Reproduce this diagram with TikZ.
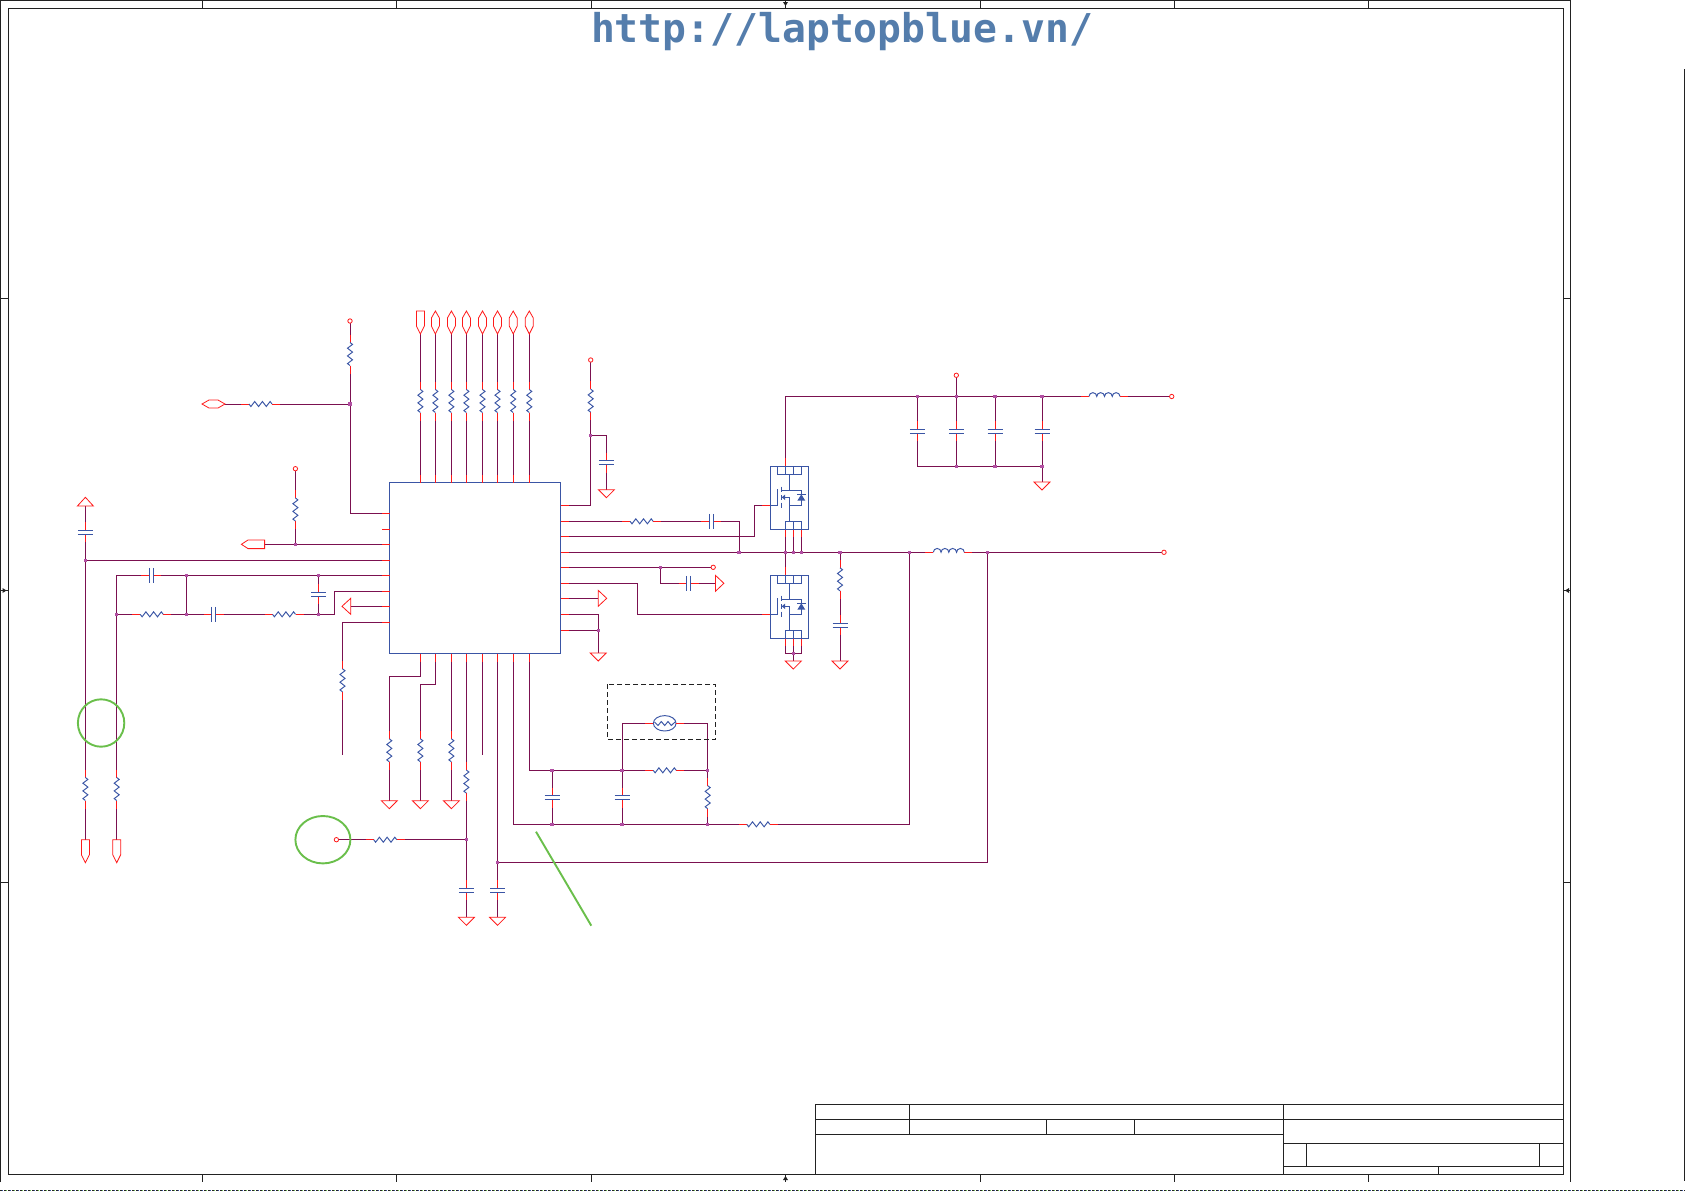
\documentclass[tikz,border=0pt]{standalone}
\usepackage{fontspec}
\usetikzlibrary{shapes.geometric}
\newfontfamily\hdrfont{DejaVu Sans Mono}
\definecolor{wirec}{HTML}{7B1150}
\definecolor{pinc}{HTML}{FF1A1A}
\definecolor{compc}{HTML}{3A55A5}
\definecolor{dotc}{HTML}{B24FA3}
\definecolor{framec}{HTML}{222222}
\definecolor{greenc}{HTML}{6ABF4B}
\definecolor{hdrc}{HTML}{547DAC}
\pgfdeclarelayer{wires}
\pgfsetlayers{wires,main}
\tikzset{
 x=1pt,y=-1pt,
 wire/.style={draw=wirec,line width=0.95pt},
 stub/.style={draw=pinc,line width=0.95pt},
 comp/.style={draw=compc,line width=0.95pt},
 flag/.style={draw=pinc,line width=0.8pt,line join=miter},
 frameline/.style={draw=framec,line width=1pt},
 callout/.style={draw=greenc,line width=1.9pt},
}
% vertical resistor
\newcommand\Rv[3]{\begin{scope}[shift={(#2,#3)}]
 \coordinate (#1-a) at (0,-19.5); \coordinate (#1-b) at (0,19.5);
 \draw[stub] (0,-19.5)--(0,-11.5); \draw[stub] (0,11.5)--(0,19.5);
 \draw[comp] (0,-11.5)--(2.5,-9.6)--(-2.5,-5.8)--(2.5,-1.9)--(-2.5,1.9)--(2.5,5.8)--(-2.5,9.6)--(0,11.5);
\end{scope}}
% horizontal resistor
\newcommand\Rh[3]{\begin{scope}[shift={(#2,#3)}]
 \coordinate (#1-a) at (-19.5,0); \coordinate (#1-b) at (19.5,0);
 \draw[stub] (-19.5,0)--(-11.5,0); \draw[stub] (11.5,0)--(19.5,0);
 \draw[comp] (-11.5,0)--(-9.6,2.5)--(-5.8,-2.5)--(-1.9,2.5)--(1.9,-2.5)--(5.8,2.5)--(9.6,-2.5)--(11.5,0);
\end{scope}}
% capacitors
\newcommand\Cv[3]{\begin{scope}[shift={(#2,#3)}]
 \coordinate (#1-a) at (0,-10); \coordinate (#1-b) at (0,10);
 \draw[stub] (0,-10)--(0,-2); \draw[stub] (0,2)--(0,10);
 \draw[comp] (-7.5,-2)--(7.5,-2) (-7.5,2)--(7.5,2);
\end{scope}}
\newcommand\Ch[3]{\begin{scope}[shift={(#2,#3)}]
 \coordinate (#1-a) at (-10,0); \coordinate (#1-b) at (10,0);
 \draw[stub] (-10,0)--(-2,0); \draw[stub] (2,0)--(10,0);
 \draw[comp] (-2,-7.5)--(-2,7.5) (2,-7.5)--(2,7.5);
\end{scope}}
% inductor
\newcommand\Lh[3]{\begin{scope}[shift={(#2,#3)}]
 \coordinate (#1-a) at (-23.5,0); \coordinate (#1-b) at (23.5,0);
 \draw[stub] (-23.5,0)--(-15.5,0); \draw[stub] (15.5,0)--(23.5,0);
 \draw[comp] (-15.5,0) arc (180:360:3.875) arc (180:360:3.875) arc (180:360:3.875) arc (180:360:3.875);
\end{scope}}
\newcommand\Jn[3]{\coordinate (#1) at (#2,#3); \fill[dotc] (#2-1.6,#3-1.6) rectangle (#2+1.6,#3+1.6);}
\newcommand\Ep[3]{\coordinate (#1) at (#2,#3); \draw[flag,fill=white] (#2,#3) circle (2.2);}
\newcommand\Gnd[3]{\coordinate (#1) at (#2,#3); \draw[flag] (#2-8,#3)--(#2+8,#3)--(#2,#3+8)--cycle;}
\newcommand\TriR[3]{\coordinate (#1) at (#2,#3); \draw[flag] (#2,#3-8)--(#2+8.5,#3)--(#2,#3+8)--cycle;}
\newcommand\LozV[3]{\coordinate (#1) at (#2,#3+23); \draw[flag] (#2,#3)--(#2+4,#3+7)--(#2+4,#3+15)--(#2,#3+23)--(#2-4,#3+15)--(#2-4,#3+7)--cycle;}
\newcommand\PentD[3]{\coordinate (#1) at (#2,#3); \coordinate (#1-t) at (#2,#3+23); \draw[flag] (#2-4,#3)--(#2+4,#3)--(#2+4,#3+15)--(#2,#3+23)--(#2-4,#3+15)--cycle;}
% MOSFET
\newcommand\Mos[2]{\begin{scope}[shift={(0,#2)}]
 \coordinate (#1-d) at (785.3,458.3);
 \coordinate (#1-s1) at (785.3,537.3); \coordinate (#1-s2) at (793.3,537.3); \coordinate (#1-s3) at (801.7,537.3);
 \coordinate (#1-g) at (762.3,505.3);
 \draw[stub] (785.3,458.3)--(785.3,466.3) (785.3,529.3)--(785.3,537.3) (793.3,529.3)--(793.3,537.3) (801.7,529.3)--(801.7,537.3) (762.3,505.3)--(770.3,505.3);
 \draw[comp] (770.3,466.3) rectangle (808.3,529.3);
 \draw[comp] (777.3,466.3) rectangle (801.7,474.3) (785.3,466.3)--(785.3,474.3) (793.3,466.3)--(793.3,474.3);
 \draw[comp] (785.3,521.3) rectangle (801.7,529.3) (793.3,521.3)--(793.3,529.3);
 \draw[comp] (789.3,474.3)--(789.3,490.3) (781.3,490.3)--(801.3,490.3)--(801.3,505.3)--(789.3,505.3);
 \draw[comp] (781.3,497.3)--(789.3,497.3)--(789.3,521.3);
 \draw[comp] (770.3,505.3)--(777.3,505.3)--(777.3,489.3);
 \draw[comp] (781.3,486.7)--(781.3,492) (781.3,495)--(781.3,500) (781.3,502.7)--(781.3,508);
 \fill[compc] (781.8,497.3)--(785,494.6)--(785,500)--cycle;
 \fill[compc] (801.3,494.3)--(805.3,500.7)--(797.3,500.7)--cycle;
 \draw[comp] (797,494.3)--(805.6,494.3);
\end{scope}}
\begin{document}
\begin{tikzpicture}
\useasboundingbox (0,0) rectangle (1685,1191);
\begin{pgfonlayer}{wires}
\fill[white] (0,0) rectangle (1685,1191);
\end{pgfonlayer}
% header
\node[text=hdrc,font=\hdrfont\bfseries\fontsize{39.7}{44}\selectfont,anchor=base] (hdr) at (842,42) {http://laptopblue.vn/};
% frame
\draw[frameline] (0.5,1182)--(0.5,0.5)--(1570.3,0.5)--(1570.3,1182);
\draw[frameline] (1684.3,69)--(1684.3,1181);
\draw[frameline] (8,8) rectangle (1563.5,1174.3);
\draw[framec,line width=1pt,dash pattern=on 1.5pt off 2.5pt] (0,1190.3)--(1685,1190.3);
\draw[compc,line width=1pt,dash pattern=on 1.5pt off 6.5pt] (1.5,1190.3)--(1685,1190.3);
\draw[greenc,line width=1pt,dash pattern=on 1.5pt off 6.5pt] (5.5,1190.3)--(1685,1190.3);
\foreach \t in {202,396.5,591,980,1174.5,1368} {\draw[frameline] (\t,0.5)--(\t,8) (\t,1174.3)--(\t,1182);}
\foreach \t in {298.7,882} {\draw[frameline] (0.5,\t)--(8,\t) (1563.5,\t)--(1570.3,\t);}
\draw[frameline] (785.5,0.5)--(785.5,8) (785.5,1174.3)--(785.5,1182) (0.5,590.5)--(8,590.5) (1563.5,590.5)--(1570.3,590.5);
\fill[framec] (785.5,6)--(783,2)--(788,2)--cycle (785.5,1176)--(783,1180)--(788,1180)--cycle;
\fill[framec] (6.5,590.5)--(2.5,588)--(2.5,593)--cycle (1565,590.5)--(1569,588)--(1569,593)--cycle;
% title block
\draw[frameline] (815.2,1174.3)--(815.2,1104.3)--(1563.5,1104.3);
\draw[frameline] (815.2,1119.3)--(1563.5,1119.3) (815.2,1134.3)--(1283.6,1134.3);
\draw[frameline] (909.5,1104.3)--(909.5,1134.3) (1046.6,1119.3)--(1046.6,1134.3) (1134.6,1119.3)--(1134.6,1134.3) (1283.6,1104.3)--(1283.6,1174.3);
\draw[frameline] (1283.6,1143.3)--(1563.5,1143.3) (1283.6,1166.3)--(1563.5,1166.3) (1306.2,1143.3)--(1306.2,1166.3) (1539.3,1143.3)--(1539.3,1166.3) (1438.3,1166.3)--(1438.3,1174.3);
% IC
\node[comp,draw,rectangle,minimum width=171pt,minimum height=171pt,inner sep=0pt,outer sep=0pt] (ic) at (475,568) {};
\foreach \n/\x in {1/420.4,2/435.4,3/451.4,4/466.4,5/482.5,6/497.5,7/513.2,8/529.3} {
 \draw[stub] (\x,482.5)--(\x,474.5); \coordinate (t\n) at (\x,474.5);
 \draw[stub] (\x,653.5)--(\x,661.5); \coordinate (b\n) at (\x,661.5);
}
\foreach \n/\y in {1/513.3,2/529.3,3/544.3,4/560.3,5/575.3,6/591.3,7/606.3,8/622.3} {
 \draw[stub] (389.5,\y)--(381.5,\y); \coordinate (l\n) at (381.5,\y);
}
\foreach \n/\y in {1/505.3,2/521.3,3/536.7,4/552.3,5/567.3,6/583.3,7/598.3,8/614.3,9/630.3} {
 \draw[stub] (560.5,\y)--(568.5,\y); \coordinate (r\n) at (568.5,\y);
}
% top row
\PentD{fA}{420.4}{311}
\foreach \n/\x in {2/435.4,3/451.4,4/466.4,5/482.5,6/497.5,7/513.2,8/529.3} {\LozV{fT\n}{\x}{311}}
\foreach \n/\x in {1/420.4,2/435.4,3/451.4,4/466.4,5/482.5,6/497.5,7/513.2,8/529.3} {\Rv{Rt\n}{\x}{401}}
% left part
\Ep{E1}{350}{321}
\Rv{R1}{350}{354}
\Jn{J1}{350}{404}
\draw[flag] (202,404)--(209,400)--(218,400)--(225,404)--(218,408)--(209,408)--cycle;
\coordinate (fL1) at (225,404);
\Rh{R2}{260.5}{404}
\Ep{E2}{295.4}{468.7}
\Rv{R3}{295.4}{509.5}
\Jn{J3}{295.4}{544.3}
\draw[flag] (241.4,544.3)--(248,540)--(264.6,540)--(264.6,548.6)--(248,548.6)--cycle;
\coordinate (fL2) at (264.6,544.3);
\draw[flag] (85.4,497.3)--(93.4,506)--(77.4,506)--cycle;
\coordinate (fU) at (85.4,506);
\Cv{C1}{85.4}{532.3}
\Jn{J4}{85.4}{560.3}
\Rv{R4}{85.4}{789}
\PentD{fD1}{85.4}{839.7}
\Rv{R5}{116.7}{789}
\PentD{fD2}{116.7}{839.7}
\Ch{C2}{151}{575.3}
\Jn{J5}{116.7}{614.3}
\Rh{R6}{151.7}{614.3}
\Jn{J6}{186.4}{614.3}
\Jn{J7}{186.4}{575.3}
\Ch{C3}{213.6}{614.3}
\Rh{R7}{284}{614.3}
\Jn{J8}{318.6}{614.3}
\Jn{J9}{318.6}{575.3}
\Cv{C4}{318.6}{594.3}
\coordinate (k1) at (334.6,614.3);
\draw[flag] (342,606.3)--(350.7,598.3)--(350.7,614.3)--cycle;
\coordinate (fL3) at (350.7,606.3);
\Rv{R8}{342.5}{680.3}
\coordinate (end1) at (342.5,754.7);
% bottom row
\Rv{Rb1}{389.3}{750.3}
\Rv{Rb2}{420.4}{750.3}
\Rv{Rb3}{451.4}{750.3}
\Gnd{G1}{389.3}{800.7}
\Gnd{G2}{420.4}{800.7}
\Gnd{G3}{451.4}{800.7}
\coordinate (k2) at (420.4,676.3);
\coordinate (k3) at (389.3,676.3);
\coordinate (k4) at (435.4,684.3);
\coordinate (k5) at (420.4,684.3);
\Rv{Rb4}{466.4}{781.6}
\Jn{J10}{466.4}{839.7}
\Cv{C5}{466.4}{890.3}
\Gnd{G4}{466.4}{917.3}
\Ep{E3}{336.4}{839.7}
\Rh{R9}{385.2}{839.7}
\coordinate (end2) at (482.5,754.7);
\Jn{J11}{497.5}{862.7}
\Cv{C6}{497.5}{890.3}
\Gnd{G5}{497.5}{917.3}
\Jn{J13}{552}{824.3}
\Jn{J14}{622}{824.3}
\Jn{J15}{707.7}{824.3}
\Rh{R10}{758.3}{824.3}
\Jn{J17}{552}{770.3}
\Jn{J18}{622}{770.3}
\Jn{J19}{707.7}{770.3}
\Rh{R11}{664.7}{770.3}
\Rv{R12}{707.7}{797.2}
\Cv{C7}{552}{797.7}
\Cv{C8}{622}{797.7}
\coordinate (k6) at (513.2,824.3);
\coordinate (k7) at (529.3,770.3);
% crystal
\node[comp,draw,ellipse,minimum width=22.7pt,minimum height=15.4pt,inner sep=0pt] (Y1) at (664.7,723.3) {};
\draw[comp] (654.5,722)--(658,725.5)--(661.3,721.5)--(664.7,725.5)--(668,721.5)--(671.3,725.5)--(675,722);
\draw[stub] (645.3,723.3)--(653.4,723.3) (676,723.3)--(684,723.3);
\coordinate (Ya) at (645.3,723.3);
\coordinate (Yb) at (684,723.3);
\draw[framec,line width=0.95pt,dash pattern=on 5pt off 3pt] (607.3,684.3) rectangle (715.7,739.3);
% right part
\Ep{E4}{590.7}{360}
\Rv{R13}{590.7}{400.7}
\Jn{J20}{590.7}{435.3}
\Cv{C9}{606.4}{462.7}
\Gnd{G6}{606.4}{489.7}
\Rh{R14}{641.6}{521.3}
\Ch{C10}{711.4}{521.3}
\Jn{J21}{739}{552.3}
\coordinate (k8) at (754.3,536.7);
\coordinate (k9) at (754.3,505.3);
\Mos{M1}{0}
\Mos{M2}{109}
\Jn{J40}{785.3}{552.3}
\Jn{J41}{793.3}{552.3}
\Jn{J42}{801.7}{552.3}
\Jn{J36}{840}{552.3}
\Jn{J16}{909.7}{552.3}
\Lh{L1}{948.8}{552.3}
\Jn{J12}{987.3}{552.3}
\Ep{E5}{1164}{552.3}
\Jn{J22}{660.7}{567.3}
\Ep{E6}{713.2}{567.3}
\Ch{C11}{688.6}{583.3}
\TriR{fR1}{715.4}{583.3}
\TriR{fR2}{598.2}{598.3}
\coordinate (k10) at (637.5,614.3);
\Jn{J23}{598.2}{630.3}
\Gnd{G7}{598.2}{653}
\Jn{J35}{793.3}{653.3}
\Gnd{G8}{793.3}{661}
\Rv{R15}{840}{579.3}
\Cv{C16}{840}{625.3}
\Gnd{G9}{840}{661}
\Jn{J24}{917.3}{396.5}
\Jn{J25}{956.3}{396.5}
\Jn{J26}{995}{396.5}
\Jn{J27}{1042}{396.5}
\Ep{E8}{956.3}{375.3}
\Cv{C12}{917.3}{431}
\Cv{C13}{956.3}{431}
\Cv{C14}{995}{431}
\Cv{C15}{1042}{431}
\Jn{J29}{956.3}{466.3}
\Jn{J30}{995}{466.3}
\Jn{J31}{1042}{466.3}
\Gnd{G10}{1042}{482}
\Lh{L2}{1104.5}{396.5}
\Ep{E7}{1171.7}{396.5}
% callouts
\draw[callout] (101.1,723) ellipse (23.2 and 23.7);
\draw[callout] (322.9,839.7) ellipse (27.5 and 23.7);
\coordinate (gA) at (536,831.7);
\coordinate (gB) at (591.3,925.7);
\draw[callout] (gA)--(gB);
% wires
\begin{pgfonlayer}{wires}
\draw[wire] (fA-t)--(Rt1-a) (Rt1-b)--(t1);
\foreach \n in {2,...,8} {\draw[wire] (fT\n)--(Rt\n-a) (Rt\n-b)--(t\n);}
\draw[wire] (E1)--(R1-a) (R1-b)|-(l1);
\draw[wire] (fL1)--(R2-a) (R2-b)--(J1);
\draw[wire] (E2)--(R3-a) (R3-b)--(J3);
\draw[wire] (fL2)--(l3);
\draw[wire] (fU)--(C1-a) (C1-b)--(J4)--(R4-a) (R4-b)--(fD1);
\draw[wire] (J4)--(l4);
\draw[wire] (l5)--(C2-b) (C2-a)-|(R5-a) (R5-b)--(fD2);
\draw[wire] (J5)--(R6-a) (R6-b)--(J6)--(C3-a) (C3-b)--(R7-a) (R7-b)--(J8)--(k1)|-(l6);
\draw[wire] (J6)--(J7);
\draw[wire] (J9)--(C4-a) (C4-b)--(J8);
\draw[wire] (l7)--(fL3);
\draw[wire] (l8)-|(R8-a) (R8-b)--(end1);
\draw[wire] (b1)--(k2)--(k3)--(Rb1-a) (Rb1-b)--(G1);
\draw[wire] (b2)--(k4)--(k5)--(Rb2-a) (Rb2-b)--(G2);
\draw[wire] (b3)--(Rb3-a) (Rb3-b)--(G3);
\draw[wire] (b4)--(Rb4-a) (Rb4-b)--(J10)--(C5-a) (C5-b)--(G4);
\draw[wire] (E3)--(R9-a) (R9-b)--(J10);
\draw[wire] (b5)--(end2);
\draw[wire] (b6)--(J11)--(C6-a) (C6-b)--(G5);
\draw[wire] (J11)-|(J12);
\draw[wire] (b7)--(k6)--(J15)--(R10-a) (R10-b)-|(J16);
\draw[wire] (b8)--(k7)--(R11-a) (R11-b)--(J19)--(R12-a) (R12-b)--(J15);
\draw[wire] (J17)--(C7-a) (C7-b)--(J13);
\draw[wire] (J18)--(C8-a) (C8-b)--(J14);
\draw[wire] (J18)|-(Ya) (Yb)-|(J19);
\draw[wire] (E4)--(R13-a) (R13-b)|-(r1);
\draw[wire] (J20)-|(C9-a) (C9-b)--(G6);
\draw[wire] (r2)--(R14-a) (R14-b)--(C10-a) (C10-b)-|(J21);
\draw[wire] (r3)--(k8)--(k9)--(M1-g);
\draw[wire] (r4)--(L1-a) (L1-b)--(E5);
\draw[wire] (r5)--(E6);
\draw[wire] (J22)|-(C11-a) (C11-b)--(fR1);
\draw[wire] (r6)-|(k10)--(M2-g);
\draw[wire] (r7)--(fR2);
\draw[wire] (r8)-|(J23) (r9)--(J23)--(G7);
\draw[wire] (M1-d)|-(L2-a) (L2-b)--(E7);
\draw[wire] (M1-s1)--(J40)--(M2-d) (M1-s2)--(J41) (M1-s3)--(J42);
\draw[wire] (M2-s1)|-(J35) (M2-s2)--(J35) (M2-s3)|-(J35) (J35)--(G8);
\draw[wire] (J36)--(R15-a) (R15-b)--(C16-a) (C16-b)--(G9);
\draw[wire] (E8)--(J25);
\draw[wire] (J24)--(C12-a) (J25)--(C13-a) (J26)--(C14-a) (J27)--(C15-a);
\draw[wire] (C12-b)|-(J31) (C13-b)--(J29) (C14-b)--(J30) (C15-b)--(J31)--(G10);
\end{pgfonlayer}
\end{tikzpicture}
\end{document}
